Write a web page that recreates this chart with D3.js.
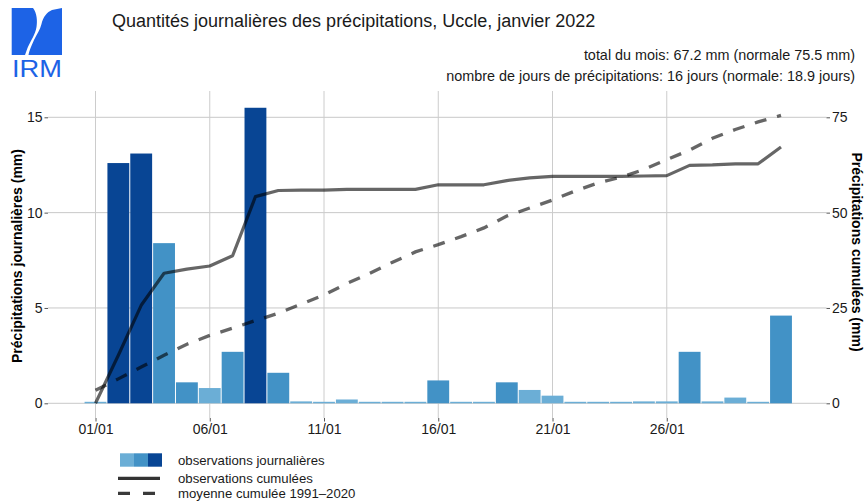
<!DOCTYPE html>
<html><head><meta charset="utf-8">
<script src="https://cdn.jsdelivr.net/npm/d3@7"></script>
<style>body{margin:0;background:#fff} text{font-family:"Liberation Sans",Arial,Helvetica,sans-serif}</style>
</head><body><svg id="c" width="866" height="502"></svg>
<script>
// ---- data ----
const days = [1,2,3,4,5,6,7,8,9,10,11,12,13,14,15,16,17,18,19,20,21,22,23,24,25,26,27,28,29,30,31];
const daily = [0,12.6,13.1,8.4,1.1,0.8,2.7,15.5,1.6,0.1,0,0.2,0,0,0,1.2,0,0,1.1,0.7,0.4,0,0,0,0.1,0.1,2.7,0.1,0.3,0,4.6];
const cumObs = [0,12.6,25.7,34.1,35.2,36.0,38.7,54.2,55.8,55.9,55.9,56.1,56.1,56.1,56.1,57.3,57.3,57.3,58.4,59.1,59.5,59.5,59.5,59.5,59.6,59.7,62.4,62.5,62.8,62.8,67.2];
const cumNorm = [3.4,6.4,9.5,12.6,15.5,17.8,19.7,21.7,23.6,26.0,28.4,31.4,34.1,37.0,39.7,41.6,43.7,46.0,49.1,51.2,53.3,55.7,57.8,59.3,61.3,63.9,66.4,69.5,71.8,73.8,75.5];
const xTickDays = [1,6,11,16,21,26];
const xTickLabels = ["01/01","06/01","11/01","16/01","21/01","26/01"];
const leftTicks = [0,5,10,15];
const rightTicks = [0,25,50,75];
const classBreaks = [1,10];
const classColors = ["#6baed6","#4292c6","#084594"];
const legendLabels = ["observations journalières","observations cumulées","moyenne cumulée 1991\u20132020"];
const titleText = "Quantités journalières des précipitations, Uccle, janvier 2022";
const subLines = ["total du mois: 67.2 mm (normale 75.5 mm)","nombre de jours de précipitations: 16 jours (normale: 18.9 jours)"];

// ---- layout ----
const svg = d3.select("#c");
svg.append("rect").attr("width",866).attr("height",502).attr("fill","#fff");
const P = {l:48, r:826.5, t:91, b:418};
const x = d3.scaleLinear().domain([1,31]).range([95.5,781]);
const step = x(2)-x(1);
const yL = d3.scaleLinear().domain([0,15]).range([403.3,117.3]);
const yR = d3.scaleLinear().domain([0,75]).range([403.3,117.3]);
const col = d3.scaleThreshold().domain(classBreaks).range(classColors);

// grid
const g = svg.append("g");
g.selectAll(".hg").data(leftTicks).join("line")
  .attr("x1",P.l).attr("x2",P.r).attr("y1",d=>yL(d)).attr("y2",d=>yL(d))
  .attr("stroke","#c8c8c8").attr("stroke-width",1);
g.selectAll(".vg").data(xTickDays).join("line")
  .attr("x1",d=>x(d)).attr("x2",d=>x(d)).attr("y1",P.t).attr("y2",P.b)
  .attr("stroke","#cccccc").attr("stroke-width",1);

// bars
svg.append("g").selectAll("rect").data(days).join("rect")
  .attr("x",(d)=>x(d)-step/2+0.5)
  .attr("width",step-1)
  .attr("y",(d,i)=>Math.min(yL(daily[i]), yL(0)-1.5))
  .attr("height",(d,i)=>Math.max(yL(0)-yL(daily[i]),1.5))
  .attr("fill",(d,i)=>col(daily[i]));

// lines
const lineN = d3.line().x((d,i)=>x(days[i])).y(d=>yR(d));
svg.append("path").datum(cumNorm).attr("d",lineN).attr("fill","none")
  .attr("stroke","#000").attr("stroke-opacity",0.6).attr("stroke-width",3.3)
  .attr("stroke-dasharray","12,11");
svg.append("path").datum(cumObs).attr("d",lineN).attr("fill","none")
  .attr("stroke","#000").attr("stroke-opacity",0.6).attr("stroke-width",3.2)
  .attr("stroke-linejoin","round");

// axes
function styleAxis(sel){
  sel.select(".domain").remove();
  sel.selectAll(".tick line").attr("stroke","#555");
  sel.selectAll(".tick text").attr("fill","#1a1a1a").style("font-size","14px")
    .style("font-family",'"Liberation Sans",Arial,sans-serif');
}
svg.append("g").attr("transform",`translate(${P.l},0)`)
  .call(d3.axisLeft(yL).tickValues(leftTicks).tickSize(3.5).tickPadding(2)).call(styleAxis);
svg.append("g").attr("transform",`translate(${P.r},0)`)
  .call(d3.axisRight(yR).tickValues(rightTicks).tickSize(3.5).tickPadding(2)).call(styleAxis);
svg.append("g").attr("transform",`translate(0,${P.b})`)
  .call(d3.axisBottom(x).tickValues(xTickDays).tickFormat((d,i)=>xTickLabels[i]).tickSize(3.5).tickPadding(2.5)).call(styleAxis);

// axis titles
svg.append("text").attr("transform","translate(21.5,256) rotate(-90)").attr("text-anchor","middle")
  .style("font-size","14px").style("font-weight","bold").attr("fill","#000")
  .text("Précipitations journalières (mm)");
svg.append("text").attr("transform","translate(851.5,252) rotate(90)").attr("text-anchor","middle")
  .style("font-size","14px").style("font-weight","bold").attr("fill","#000")
  .text("Précipitations cumulées (mm)");

// titles
svg.append("text").attr("x",112).attr("y",26.5).style("font-size","18px").attr("fill","#1a1a1a").text(titleText);
svg.selectAll(".sub").data(subLines).join("text")
  .attr("x",855).attr("y",(d,i)=>60+i*21).attr("text-anchor","end")
  .style("font-size","14.4px").attr("fill","#1a1a1a").text(d=>d);

// legend
const lg = svg.append("g");
lg.selectAll("rect").data(classColors).join("rect")
  .attr("x",(d,i)=>120+i*14).attr("y",453.3).attr("width",14).attr("height",13.4).attr("fill",d=>d);
lg.append("line").attr("x1",118).attr("x2",160).attr("y1",478.3).attr("y2",478.3)
  .attr("stroke","#333").attr("stroke-width",3.3);
lg.append("line").attr("x1",118).attr("x2",160).attr("y1",493.3).attr("y2",493.3)
  .attr("stroke","#3a3a3a").attr("stroke-width",3.3).attr("stroke-dasharray","12,13");
lg.selectAll("text").data(legendLabels).join("text")
  .attr("x",178).attr("y",(d,i)=>[465,483,498][i])
  .style("font-size","13.2px").attr("fill","#1a1a1a").text(d=>d);

// logo
const logo = svg.append("g");
const blue = "#1d63e6";
logo.append("path").attr("fill",blue)
  .attr("d","M11.7,8 L33,8 C37,13 37.5,21 36.5,27 C35.5,34 30,42 27.5,48 L25,55 L11.7,55 Z");
logo.append("path").attr("fill",blue)
  .attr("d","M52,10 L62,8 L62,55 L28.5,55 C29.5,50 31,47 34,40 C37,34 40,30 41.5,24 C43,17 47,12 52,10 Z");
logo.append("text").attr("x",12).attr("y",77).attr("fill",blue).style("font-size","23.5px")
  .attr("textLength",50).attr("lengthAdjust","spacingAndGlyphs").text("IRM");
</script></body></html>
